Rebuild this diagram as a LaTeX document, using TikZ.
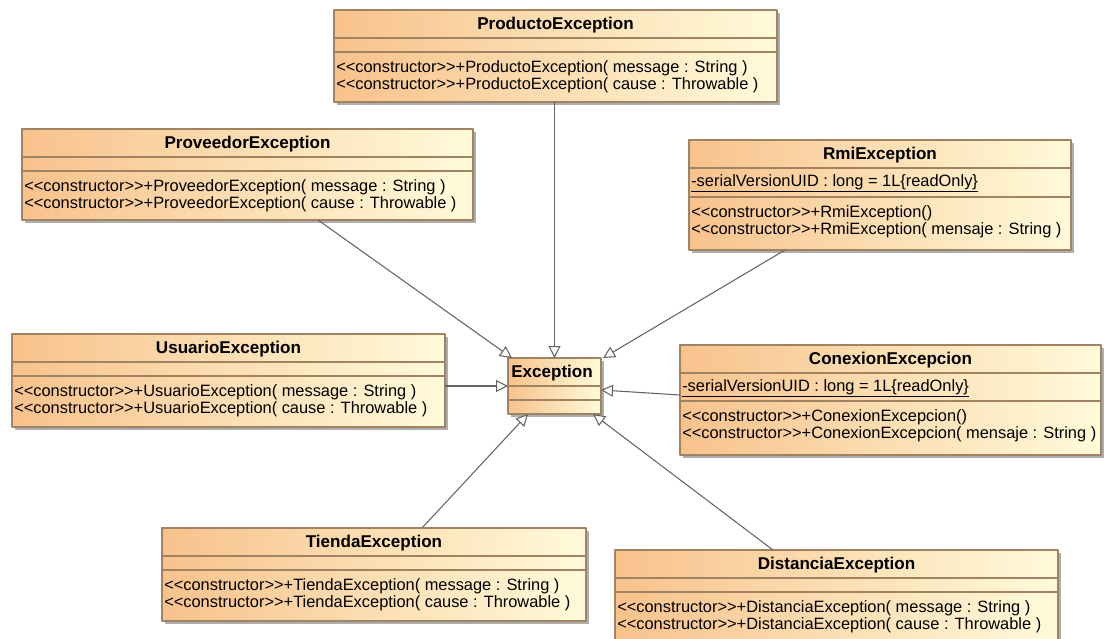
\documentclass[tikz,border=0pt]{standalone}
\usepackage{fontspec}
\setmainfont{Liberation Sans}
\usetikzlibrary{arrows.meta,calc,fit,shadows}

\definecolor{classleft}{RGB}{248,194,140}
\definecolor{classright}{RGB}{255,250,218}
\definecolor{classline}{RGB}{160,132,98}
\definecolor{genline}{RGB}{100,100,100}

\newcommand{\ctor}{<{}<constructor>{}>+}

\tikzset{
  classbox/.style={draw=classline, line width=0.9pt, left color=classleft, right color=classright,
    inner sep=0pt, outer sep=0pt,
    drop shadow={shadow xshift=2.5pt, shadow yshift=-2.5pt, fill=black!45, opacity=0.7}},
  classsep/.style={draw=classline, line width=0.9pt},
  classtitle/.style={font=\fontsize{12.8}{14}\selectfont\bfseries, inner sep=0pt},
  classops/.style={font=\fontsize{12.3}{12.75}\selectfont, align=left, anchor=north west, inner sep=0pt},
  gen/.style={draw=genline, line width=0.8pt, -{Triangle[length=9pt, width=9pt, fill=white]}}
}

\begin{document}
\begin{tikzpicture}[x=0.75pt, y=-0.75pt, line join=round]
  \useasboundingbox (0,0) rectangle (1104,639);

  % ProductoException
  \node[classbox, fit={(334,10) (777,102)}] (producto) {};
  \node[classtitle] at ($(producto.north)+(0,15)$) {ProductoException};
  \draw[classsep] (334,38) -- (777,38);
  \draw[classsep] (334,52) -- (777,52);
  \node[classops] at (336,60) {\ctor ProductoException( message : String )\\\ctor ProductoException( cause : Throwable )};

  % ProveedorException
  \node[classbox, fit={(22,129) (473,220)}] (proveedor) {};
  \node[classtitle] at ($(proveedor.north)+(0,15)$) {ProveedorException};
  \draw[classsep] (22,157) -- (473,157);
  \draw[classsep] (22,171) -- (473,171);
  \node[classops] at (24,179) {\ctor ProveedorException( message : String )\\\ctor ProveedorException( cause : Throwable )};

  % RmiException
  \node[classbox, fit={(689,140) (1071,250)}] (rmi) {};
  \node[classtitle] at ($(rmi.north)+(0,15)$) {RmiException};
  \draw[classsep] (689,168) -- (1071,168);
  \draw[classsep] (689,197) -- (1071,197);
  \node[classops] at (691,174) {\underline{-serialVersionUID : long = 1L\{readOnly\}}};
  \node[classops] at (691,205) {\ctor RmiException()\\\ctor RmiException( mensaje : String )};

  % UsuarioException
  \node[classbox, fit={(12,334) (445,427)}] (usuario) {};
  \node[classtitle] at ($(usuario.north)+(0,15)$) {UsuarioException};
  \draw[classsep] (12,362) -- (445,362);
  \draw[classsep] (12,376) -- (445,376);
  \node[classops] at (14,384) {\ctor UsuarioException( message : String )\\\ctor UsuarioException( cause : Throwable )};

  % Exception
  \node[classbox, fit={(508,358) (601,414)}] (exc) {};
  \node[classtitle, anchor=west] at ($(exc.north west)+(3,15)$) {Exception};
  \draw[classsep] (508,386) -- (601,386);
  \draw[classsep] (508,400) -- (601,400);

  % ConexionExcepcion
  \node[classbox, fit={(680,345) (1101,455)}] (conexion) {};
  \node[classtitle] at ($(conexion.north)+(0,15)$) {ConexionExcepcion};
  \draw[classsep] (680,373) -- (1101,373);
  \draw[classsep] (680,401) -- (1101,401);
  \node[classops] at (682,379) {\underline{-serialVersionUID : long = 1L\{readOnly\}}};
  \node[classops] at (682,409) {\ctor ConexionExcepcion()\\\ctor ConexionExcepcion( mensaje : String )};

  % TiendaException
  \node[classbox, fit={(162,528) (586,621)}] (tienda) {};
  \node[classtitle] at ($(tienda.north)+(0,15)$) {TiendaException};
  \draw[classsep] (162,556) -- (586,556);
  \draw[classsep] (162,570) -- (586,570);
  \node[classops] at (164,578) {\ctor TiendaException( message : String )\\\ctor TiendaException( cause : Throwable )};

  % DistanciaException
  \node[classbox, fit={(615,550) (1058,642)}] (distancia) {};
  \node[classtitle] at ($(distancia.north)+(0,15)$) {DistanciaException};
  \draw[classsep] (615,578) -- (1058,578);
  \draw[classsep] (615,592) -- (1058,592);
  \node[classops] at (617,600) {\ctor DistanciaException( message : String )\\\ctor DistanciaException( cause : Throwable )};

  % generalizations
  \draw[gen] (producto.south -| exc.north) -- (exc.north);
  \draw[gen] ($(proveedor.south west)+(296,0)$) -- ($(exc.north west)+(4,0)$);
  \draw[gen] ($(rmi.south west)+(96,0)$) -- ($(exc.north east)+(2,0)$);
  \draw[gen] (usuario.east |- exc.west) -- (exc.west);
  \draw[gen] ($(conexion.west)+(0,-5)$) -- ($(exc.east)+(0,4)$);
  \draw[gen] ($(tienda.north west)+(260,0)$) -- ($(exc.south west)+(20,0)$);
  \draw[gen] ($(distancia.north west)+(158,0)$) -- ($(exc.south east)+(-8,0)$);
\end{tikzpicture}
\end{document}
